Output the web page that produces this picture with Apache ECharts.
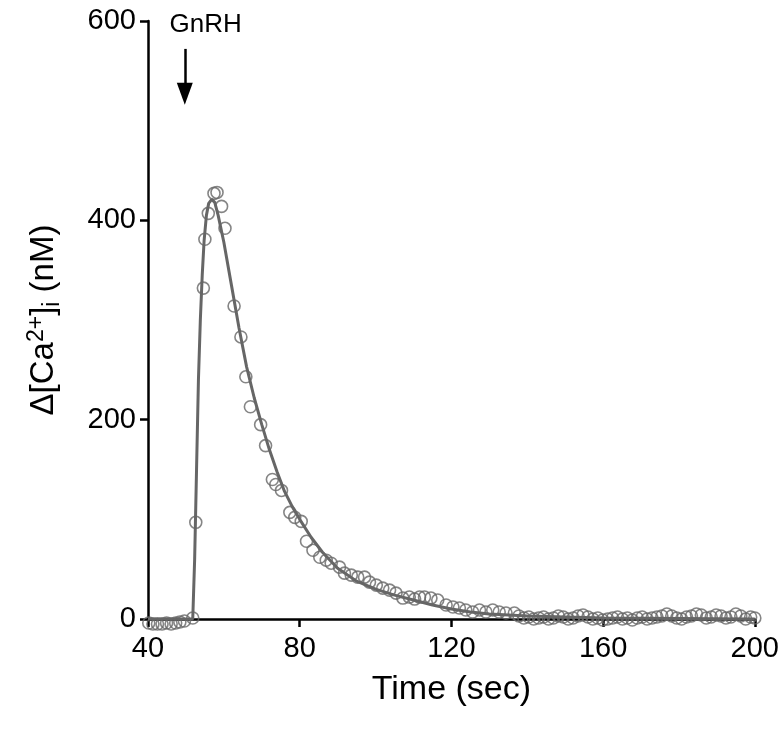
<!DOCTYPE html>
<html>
<head>
<meta charset="utf-8">
<script src="https://cdn.jsdelivr.net/npm/echarts@6/dist/echarts.min.js"></script>
<style>
html,body{margin:0;padding:0;background:#fff;}
#chart{width:782px;height:736px;}
</style>
</head>
<body>
<div id="chart"></div>
<script>
// Measured points: [time (s), Δ[Ca2+]i (nM)]
var measuredTime = [
  40.2, 41.3, 42.5, 43.7, 44.9, 46.1, 47.3, 48.4, 49.6, 51.8,
  52.6, 54.6, 55.0, 55.9, 57.4, 58.2, 59.4, 60.3, 62.7, 64.5,
  65.8, 67.0, 69.7, 71.0, 72.8, 73.7, 75.2, 77.4, 78.7, 80.4,
  81.8, 83.5, 85.3, 87.0, 88.3, 90.5, 91.8, 93.6, 95.3, 97.1,
  98.4, 100.2, 101.9, 103.7, 105.4, 107.2, 108.9, 110.3, 111.6, 112.9,
  114.6, 116.4, 118.6, 120.4, 122.1, 123.8, 125.6, 127.4, 129.1, 130.9,
  132.6, 134.4, 136.6, 137.8, 139.1, 140.4, 141.7, 143.0, 144.3, 145.6,
  146.9, 148.2, 149.5, 150.8, 152.1, 153.4, 154.7, 156.0, 157.3, 158.6,
  159.9, 161.2, 162.5, 163.8, 165.1, 166.4, 167.7, 169.0, 170.3, 171.6,
  172.9, 174.2, 175.5, 176.8, 178.1, 179.4, 180.7, 182.0, 183.3, 184.6,
  185.9, 187.2, 188.5, 189.8, 191.1, 192.4, 193.7, 195.0, 196.3, 197.6,
  198.9, 200.0
];
var measuredCa = [
  -4, -5, -5, -5, -4, -5, -4, -3, -2, 1,
  97, 332, 381, 407, 427, 428, 414, 392, 314, 283,
  243, 213, 195, 174, 140, 135, 129, 107, 102, 98,
  78, 69, 62, 59, 56, 52, 46, 44, 42, 42,
  37, 34, 31, 29, 26, 21, 22, 20, 22, 22,
  21, 19, 14, 12, 11, 9, 7, 9, 7, 9,
  7, 6, 6, 3, 1, 2, 0, 1, 2, 0,
  1, 3, 2, 0, 1, 3, 4, 2, 0, 1,
  -1, 0, 1, 2, 0, 1, -1, 1, 2, 0,
  1, 2, 3, 5, 3, 1, 0, 2, 3, 5,
  4, 1, 2, 4, 3, 1, 2, 5, 3, 0,
  2, 1
];
// Fitted curve
var fitTime = [40, 51.8, 52.3, 52.8, 53.3, 53.8, 54.3, 54.8, 55.4, 56.0, 56.8, 57.6, 58.5, 60, 62, 64, 66, 68, 70, 72, 74, 76, 78, 80, 83, 86, 90, 95, 100, 105, 110, 115, 120, 125, 130, 140, 150, 160, 180, 200];
var fitCa   = [0, 0, 60, 150, 240, 300, 345, 380, 405, 417, 421, 418, 405, 378, 335, 292, 253, 222, 195, 170, 148, 128, 113, 100, 82, 67, 51, 38, 30, 24, 19, 14, 10, 7, 5, 3, 2, 1, 0.5, 0];
// Stimulus annotation
var stimulusTime = 49.7;
var stimulusArrowTop = 572;
var stimulusArrowBottom = 527;
var stimulusLabel = 'GnRH';
var stimulusLabelAt = [55.2, 596];

var xTicks = [40, 80, 120, 160, 200];
var yTicks = [0, 200, 400, 600];

var scatterData = measuredTime.map(function (t, i) { return [t, measuredCa[i]]; });
var fitData = fitTime.map(function (t, i) { return [t, fitCa[i]]; });

var chart = echarts.init(document.getElementById('chart'), null, {renderer: 'canvas'});
var font = 'Liberation Sans, Arial, Helvetica, sans-serif';
chart.setOption({
  animation: false,
  backgroundColor: '#ffffff',
  grid: {left: 148, right: 25, top: 21, bottom: 117, containLabel: false},
  xAxis: {
    type: 'value', min: xTicks[0], max: xTicks[xTicks.length - 1], interval: 40,
    axisLine: {show: true, onZero: false, lineStyle: {color: '#000', width: 2.5}},
    axisTick: {show: true, length: 8, lineStyle: {color: '#000', width: 2.5}},
    axisLabel: {color: '#000', fontSize: 29, fontFamily: font, margin: 15},
    splitLine: {show: false},
    name: 'Time (sec)', nameLocation: 'middle', nameGap: 54,
    nameTextStyle: {color: '#000', fontSize: 34, fontFamily: font}
  },
  yAxis: {
    type: 'value', min: yTicks[0], max: yTicks[yTicks.length - 1], interval: 200,
    axisLine: {show: true, lineStyle: {color: '#000', width: 2.5}},
    axisTick: {show: true, length: 8, lineStyle: {color: '#000', width: 2.5}},
    axisLabel: {color: '#000', fontSize: 29, fontFamily: font, margin: 12},
    splitLine: {show: false},
    name: '{b|Δ[Ca}{sup|2+}{b|]}{sub|i}{b| (nM)}', nameLocation: 'middle', nameGap: 82,
    nameTextStyle: {
      color: '#000', fontSize: 33, fontFamily: font,
      rich: {
        b: {fontSize: 33, fontFamily: font, color: '#000', lineHeight: 44, verticalAlign: 'middle'},
        sup: {fontSize: 23, fontFamily: font, color: '#000', lineHeight: 44, verticalAlign: 'top', padding: [3, 0, 0, 0]},
        sub: {fontSize: 23, fontFamily: font, color: '#000', lineHeight: 44, verticalAlign: 'bottom', padding: [0, 0, 2, 0]}
      }
    }
  },
  series: [
    {
      type: 'line', data: fitData, showSymbol: false, symbol: 'none', smooth: false,
      lineStyle: {color: '#666', width: 3}, z: 2, clip: false,
      markLine: {
        silent: true, symbol: ['none', 'triangle'], symbolSize: [16, 22],
        lineStyle: {color: '#000', width: 2.5, type: 'solid'},
        label: {show: false},
        data: [[{coord: [stimulusTime, stimulusArrowTop]}, {coord: [stimulusTime, stimulusArrowBottom]}]]
      },
      markPoint: {
        silent: true, symbol: 'circle', symbolSize: 0,
        label: {show: true, position: 'inside', formatter: stimulusLabel, color: '#000', fontSize: 26, fontFamily: font},
        data: [{coord: stimulusLabelAt}]
      }
    },
    {
      type: 'scatter', data: scatterData, symbol: 'circle', symbolSize: 12, clip: false,
      itemStyle: {color: 'rgba(0,0,0,0)', borderColor: '#666', borderWidth: 1.6}, z: 3
    }
  ]
});
</script>
</body>
</html>
